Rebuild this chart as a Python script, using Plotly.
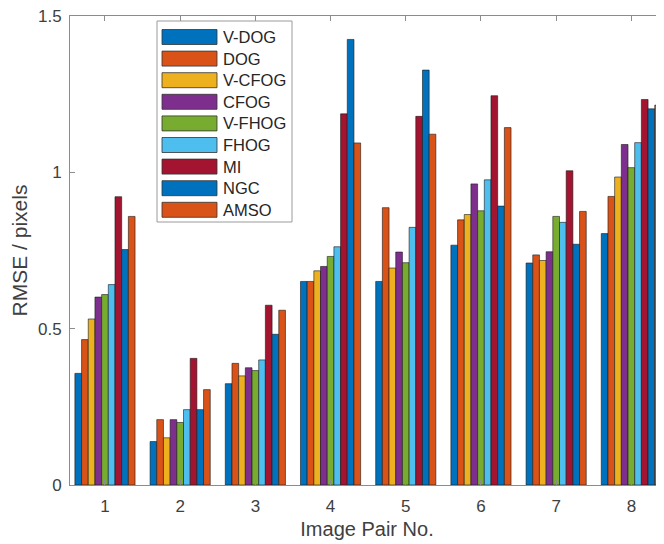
import plotly.graph_objects as go

pairs = [1, 2, 3, 4, 5, 6, 7, 8]
methods = ["V-DOG", "DOG", "V-CFOG", "CFOG", "V-FHOG", "FHOG", "MI", "NGC", "AMSO"]
colors = ["#0072BD", "#D95319", "#EDB120", "#7E2F8E", "#77AC30", "#4DBEEE", "#A2142F", "#0072BD", "#D95319"]

v_dog  = [0.357, 0.139, 0.324, 0.651, 0.651, 0.767, 0.710, 0.804]
dog    = [0.465, 0.209, 0.389, 0.651, 0.887, 0.848, 0.736, 0.923]
v_cfog = [0.531, 0.151, 0.349, 0.685, 0.694, 0.865, 0.718, 0.985]
cfog   = [0.601, 0.209, 0.375, 0.699, 0.745, 0.963, 0.746, 1.089]
v_fhog = [0.609, 0.200, 0.366, 0.731, 0.711, 0.877, 0.859, 1.015]
fhog   = [0.641, 0.241, 0.400, 0.762, 0.824, 0.976, 0.840, 1.095]
mi     = [0.922, 0.405, 0.575, 1.187, 1.179, 1.245, 1.005, 1.233]
ngc    = [0.753, 0.241, 0.482, 1.425, 1.327, 0.892, 0.770, 1.203]
amso   = [0.859, 0.305, 0.559, 1.094, 1.122, 1.143, 0.875, 1.215]

series = [v_dog, dog, v_cfog, cfog, v_fhog, fhog, mi, ngc, amso]

y_ticks = [0, 0.5, 1, 1.5]
y_tick_labels = ["0", "0.5", "1", "1.5"]

# page body has an 8px margin; figure sized so it fills the 664x544 view
OFF = 8
W, H = 656, 536
L, R, T, B = 62, 0, 8, 59
pw, ph = W - L - R, H - T - B

def px(xv):  # viewport x -> paper
    return (xv - OFF - L) / pw

def py(yv):  # viewport y -> paper
    return (H - B - (yv - OFF)) / ph

fig = go.Figure()
for name, vals, c in zip(methods, series, colors):
    fig.add_trace(go.Bar(x=pairs, y=vals, name=name,
                         marker=dict(color=c, line=dict(color="#1a1a1a", width=0.6)),
                         showlegend=False))

axis_col = "#8c8c8c"
font_col = "#404040"
fig.update_layout(
    width=W, height=H,
    margin=dict(l=L, r=R, t=T, b=B),
    paper_bgcolor="white", plot_bgcolor="white",
    barmode="group", bargap=0.2, bargroupgap=0,
    font=dict(family="Liberation Sans, Arial, sans-serif", size=17, color=font_col),
    xaxis=dict(range=[0.535, 8.434], tickvals=pairs, ticks="inside", ticklen=5, tickcolor=axis_col,
               showline=True, linecolor=axis_col, linewidth=1, mirror="ticks", showgrid=False, zeroline=False,
               ticklabelstandoff=6, ticklabeloverflow="allow",
               title=dict(text="Image Pair No.", font=dict(size=20, color=font_col), standoff=6),
               tickfont=dict(size=17, color=font_col)),
    yaxis=dict(range=[0, 1.5], tickvals=y_ticks, ticktext=y_tick_labels, ticks="inside", ticklen=5,
               tickcolor=axis_col, showline=True, linecolor=axis_col, linewidth=1, mirror="ticks",
               showgrid=False, zeroline=False, ticklabelstandoff=4, ticklabeloverflow="allow",
               title=dict(text="RMSE / pixels", font=dict(size=21, color=font_col), standoff=8),
               tickfont=dict(size=17, color=font_col)),
)

# MATLAB-style legend box
shapes = []
annotations = []
lx0, lx1, ly0, ly1 = 157, 292, 21, 222
shapes.append(dict(type="rect", xref="paper", yref="paper", x0=px(lx0), x1=px(lx1), y0=py(ly1), y1=py(ly0),
                   fillcolor="white", line=dict(color="#9a9a9a", width=1), layer="above"))
row0, dy, sh = 37, 21.6, 15
for i, (name, c) in enumerate(zip(methods, colors)):
    cy = row0 + i * dy
    shapes.append(dict(type="rect", xref="paper", yref="paper", x0=px(162), x1=px(217),
                       y0=py(cy + sh / 2), y1=py(cy - sh / 2), fillcolor=c,
                       line=dict(color="#333333", width=0.8), layer="above"))
    annotations.append(dict(text=name, xref="paper", yref="paper", x=px(221), y=py(cy), xanchor="left",
                            yanchor="middle", showarrow=False, font=dict(size=16.5, color="#262626")))
fig.update_layout(shapes=shapes, annotations=annotations)

fig.write_html("out.html")
